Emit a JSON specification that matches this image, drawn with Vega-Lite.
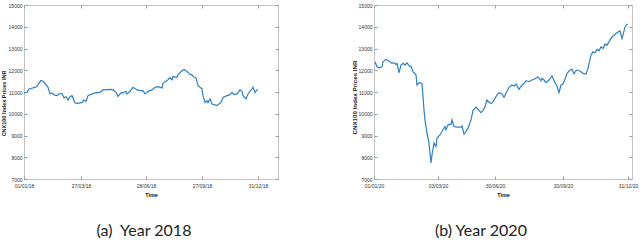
{
  "$schema": "https://vega.github.io/schema/vega-lite/v6.json",
  "padding": {"left": 0, "top": 2, "right": 0, "bottom": 0},
  "background": "white",
  "datasets": {
    "y2018": [
      {"day":0,"price":10957},{"day":3,"price":10985},{"day":5,"price":11142},{"day":9,"price":11188},{"day":13,"price":11248},{"day":14,"price":11340},{"day":17,"price":11525},{"day":19,"price":11493},{"day":22,"price":11340},{"day":24,"price":11216},{"day":26,"price":10911},{"day":28,"price":10957},{"day":30,"price":10865},{"day":33,"price":10833},{"day":35,"price":10911},{"day":38,"price":10939},{"day":40,"price":10727},{"day":42,"price":10787},{"day":44,"price":10634},{"day":46,"price":10787},{"day":48,"price":10833},{"day":49,"price":10727},{"day":51,"price":10496},{"day":54,"price":10477},{"day":58,"price":10523},{"day":60,"price":10634},{"day":62,"price":10570},{"day":64,"price":10833},{"day":68,"price":10911},{"day":71,"price":10957},{"day":76,"price":10985},{"day":79,"price":11096},{"day":83,"price":11110},{"day":87,"price":11120},{"day":89,"price":11096},{"day":92,"price":10985},{"day":94,"price":10800},{"day":96,"price":10911},{"day":98,"price":10985},{"day":99,"price":10957},{"day":102,"price":11031},{"day":103,"price":10911},{"day":106,"price":11031},{"day":109,"price":11216},{"day":113,"price":11096},{"day":116,"price":11063},{"day":119,"price":11063},{"day":121,"price":10911},{"day":124,"price":11031},{"day":128,"price":11096},{"day":131,"price":11216},{"day":134,"price":11248},{"day":138,"price":11188},{"day":139,"price":11400},{"day":143,"price":11525},{"day":146,"price":11649},{"day":148,"price":11557},{"day":149,"price":11710},{"day":153,"price":11677},{"day":154,"price":11788},{"day":158,"price":11986},{"day":160,"price":12033},{"day":163,"price":11954},{"day":165,"price":11834},{"day":168,"price":11788},{"day":170,"price":11677},{"day":172,"price":11649},{"day":174,"price":11294},{"day":176,"price":11216},{"day":178,"price":11142},{"day":179,"price":10833},{"day":181,"price":10523},{"day":183,"price":10602},{"day":184,"price":10510},{"day":186,"price":10680},{"day":188,"price":10450},{"day":190,"price":10417},{"day":193,"price":10371},{"day":194,"price":10417},{"day":197,"price":10523},{"day":199,"price":10754},{"day":203,"price":10833},{"day":206,"price":10879},{"day":208,"price":10985},{"day":210,"price":10879},{"day":213,"price":10911},{"day":216,"price":11096},{"day":218,"price":11031},{"day":219,"price":10833},{"day":222,"price":10680},{"day":224,"price":10911},{"day":228,"price":11142},{"day":229,"price":11216},{"day":231,"price":10985},{"day":233,"price":11096},{"day":234,"price":11110}
    ],
    "y2020": [
      {"day":1,"price":12390},{"day":3,"price":12160},{"day":5,"price":12115},{"day":8,"price":12160},{"day":9,"price":12389},{"day":12,"price":12499},{"day":13,"price":12467},{"day":16,"price":12389},{"day":18,"price":12316},{"day":20,"price":12344},{"day":22,"price":12270},{"day":23,"price":12316},{"day":25,"price":11886},{"day":27,"price":12238},{"day":29,"price":12316},{"day":31,"price":12238},{"day":33,"price":12344},{"day":36,"price":12160},{"day":37,"price":12192},{"day":39,"price":11931},{"day":42,"price":11780},{"day":43,"price":11322},{"day":45,"price":11428},{"day":48,"price":11400},{"day":49,"price":10786},{"day":50,"price":10177},{"day":51,"price":9719},{"day":53,"price":9110},{"day":55,"price":8652},{"day":57,"price":7736},{"day":58,"price":8116},{"day":60,"price":8652},{"day":62,"price":8497},{"day":63,"price":8881},{"day":66,"price":9032},{"day":68,"price":9184},{"day":71,"price":9413},{"day":72,"price":9261},{"day":74,"price":9490},{"day":77,"price":9522},{"day":78,"price":9719},{"day":80,"price":9413},{"day":83,"price":9385},{"day":87,"price":9385},{"day":88,"price":9445},{"day":90,"price":9064},{"day":92,"price":9184},{"day":94,"price":9339},{"day":97,"price":9719},{"day":99,"price":10145},{"day":102,"price":10301},{"day":104,"price":10209},{"day":107,"price":10054},{"day":109,"price":10145},{"day":111,"price":10328},{"day":113,"price":10635},{"day":116,"price":10484},{"day":118,"price":10484},{"day":120,"price":10635},{"day":123,"price":10864},{"day":125,"price":10970},{"day":128,"price":10910},{"day":130,"price":10759},{"day":132,"price":10942},{"day":135,"price":11217},{"day":138,"price":11322},{"day":140,"price":11276},{"day":142,"price":11368},{"day":145,"price":11125},{"day":148,"price":11322},{"day":150,"price":11400},{"day":152,"price":11519},{"day":155,"price":11473},{"day":158,"price":11551},{"day":160,"price":11583},{"day":162,"price":11629},{"day":164,"price":11702},{"day":167,"price":11519},{"day":168,"price":11629},{"day":170,"price":11551},{"day":172,"price":11428},{"day":175,"price":11551},{"day":178,"price":11735},{"day":179,"price":11629},{"day":181,"price":11428},{"day":183,"price":11276},{"day":185,"price":10970},{"day":187,"price":11322},{"day":189,"price":11368},{"day":191,"price":11583},{"day":193,"price":11858},{"day":196,"price":12009},{"day":198,"price":12041},{"day":200,"price":11826},{"day":202,"price":11977},{"day":204,"price":12009},{"day":207,"price":11931},{"day":209,"price":11858},{"day":212,"price":11826},{"day":214,"price":12087},{"day":217,"price":12696},{"day":219,"price":12847},{"day":221,"price":12802},{"day":223,"price":12958},{"day":225,"price":12893},{"day":227,"price":13076},{"day":229,"price":13003},{"day":231,"price":13200},{"day":233,"price":13154},{"day":236,"price":13383},{"day":238,"price":13534},{"day":240,"price":13612},{"day":242,"price":13690},{"day":244,"price":13763},{"day":246,"price":13809},{"day":248,"price":13461},{"day":249,"price":13612},{"day":251,"price":13992},{"day":253,"price":14116},{"day":254,"price":14116}
    ]
  },
  "spacing": 71,
  "hconcat": [
    {
      "width": 254,
      "height": 174,
      "data": {"name": "y2018"},
      "title": {"text": "(a)\u00a0 Year 2018", "orient": "bottom", "anchor": "middle", "offset": 25, "dx": -7},
      "resolve": {"axis": {"x": "independent", "y": "independent"}},
      "layer": [
        {
          "mark": {"type": "line", "color": "#2f80c3", "strokeWidth": 1.2},
          "encoding": {
            "x": {"field": "day", "type": "quantitative", "scale": {"domain": [0, 254], "nice": false, "zero": false},
              "axis": {"title": "Time", "values": [0, 57, 122, 178, 234], "labelExpr": "datum.value == 0 ? '01/01/18' : datum.value == 57 ? '27/03/18' : datum.value == 122 ? '28/06/18' : datum.value == 178 ? '27/09/18' : '31/12/18'", "labelPadding": 7, "titlePadding": 4}},
            "y": {"field": "price", "type": "quantitative", "scale": {"domain": [7000, 15000], "nice": false, "zero": false},
              "axis": {"title": "CNX100 Index Prices INR", "titleY": 98, "values": [7000, 8000, 9000, 10000, 11000, 12000, 13000, 14000, 15000], "format": "d", "labelPadding": 5, "titlePadding": 2}}
          }
        },
        {
          "mark": {"type": "line", "opacity": 0},
          "encoding": {
            "x": {"field": "day", "type": "quantitative", "axis": {"orient": "top", "labels": false, "title": null, "values": [0, 57, 122, 178, 234]}},
            "y": {"field": "price", "type": "quantitative", "axis": {"orient": "right", "labels": false, "title": null, "values": [7000, 8000, 9000, 10000, 11000, 12000, 13000, 14000, 15000]}}
          }
        }
      ]
    },
    {
      "width": 258,
      "height": 174,
      "data": {"name": "y2020"},
      "title": {"text": "(b) Year 2020", "orient": "bottom", "anchor": "middle", "offset": 25, "dx": -22},
      "resolve": {"axis": {"x": "independent", "y": "independent"}},
      "layer": [
        {
          "mark": {"type": "line", "color": "#2f80c3", "strokeWidth": 1.2},
          "encoding": {
            "x": {"field": "day", "type": "quantitative", "scale": {"domain": [0, 258], "nice": false, "zero": false},
              "axis": {"title": "Time", "values": [0, 64, 121, 189, 254], "labelExpr": "datum.value == 0 ? '01/01/20' : datum.value == 64 ? '03/03/20' : datum.value == 121 ? '30/06/20' : datum.value == 189 ? '30/09/20' : '31/12/20'", "labelPadding": 7, "titlePadding": 4}},
            "y": {"field": "price", "type": "quantitative", "scale": {"domain": [7000, 15000], "nice": false, "zero": false},
              "axis": {"title": "CNX100 Index Prices INR", "titleFontSize": 6.2, "titleY": 92, "values": [7000, 8000, 9000, 10000, 11000, 12000, 13000, 14000, 15000], "format": "d", "labelPadding": 5, "titlePadding": 1}}
          }
        },
        {
          "mark": {"type": "line", "opacity": 0},
          "encoding": {
            "x": {"field": "day", "type": "quantitative", "axis": {"orient": "top", "labels": false, "title": null, "values": [0, 64, 121, 189, 254]}},
            "y": {"field": "price", "type": "quantitative", "axis": {"orient": "right", "labels": false, "title": null, "values": [7000, 8000, 9000, 10000, 11000, 12000, 13000, 14000, 15000]}}
          }
        }
      ]
    }
  ],
  "config": {
    "view": {"stroke": "#c4c4c4", "strokeWidth": 1},
    "axis": {"domain": false, "grid": false, "tickSize": -3, "tickColor": "#9a9a9a", "labelFont": "Liberation Sans", "labelFontSize": 5, "labelColor": "#333333", "labelFlush": false, "labelOverlap": false, "titleFont": "Liberation Sans", "titleFontSize": 5.5, "titleFontWeight": "bold", "titleColor": "#222222"},
    "title": {"font": "Lato", "fontSize": 16, "fontWeight": "normal", "color": "#222222"}
  }
}
